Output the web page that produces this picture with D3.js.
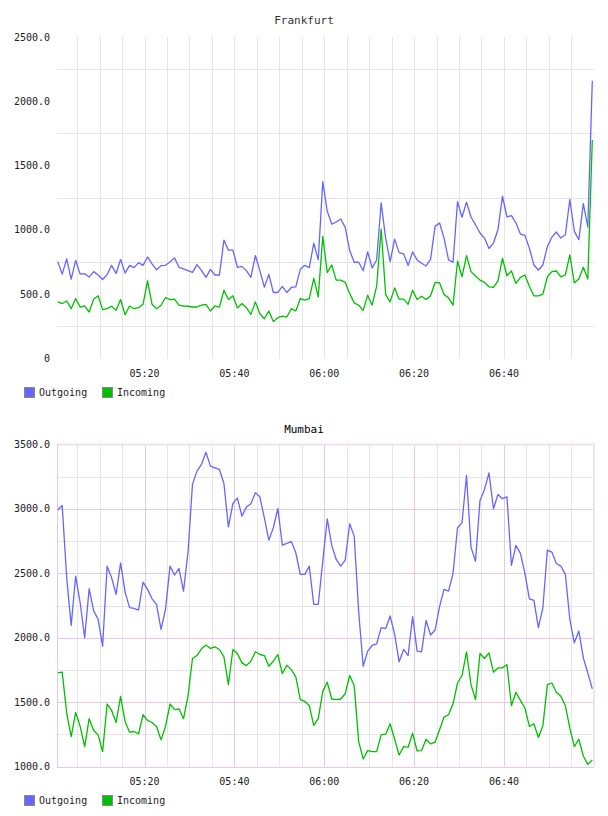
<!DOCTYPE html>
<html>
<head>
<meta charset="utf-8">
<script src="https://cdn.jsdelivr.net/npm/d3@7"></script>
<style>
  body { margin: 0; background: #fff; }
  svg { display: block; }
  text { font-family: "DejaVu Sans Mono", "Liberation Mono", monospace; }
</style>
</head>
<body>
<svg id="chart" width="608" height="816"></svg>
<script>

// one sample per minute, first sample at 05:00:40
const startTime = new Date(2020, 0, 1, 5, 0, 40);
const seriesNames = ["Outgoing", "Incoming"];
const seriesColors = ["#6666ff", "#00c000"];

const frankfurtOutgoing = [
    754,657,775,618,764,657,660,634,676,650,
    615,652,725,662,770,665,725,707,746,725,
    790,736,689,723,725,751,783,710,697,684,
    670,730,686,631,694,650,650,921,843,843,
    710,717,684,631,801,684,555,655,514,514,
    561,514,553,558,694,725,707,
    897,767,1375,1146,1046,1062,1085,1020,840,749,
    749,683,830,704,767,1210,937,754,929,824,
    814,723,830,767,741,720,772,1028,1054,937,
    767,749,1220,1099,1216,1101,1041,976,937,856,
    898,1002,1262,1101,1112,1054,968,958,858,728,
    689,728,871,944,984,937,963,1237,989,924,
    1205,1023,2160
];
const frankfurtIncoming = [
    441,428,448,388,467,401,409,362,462,488,
    381,388,407,375,459,341,409,388,396,422,
    605,422,388,415,475,459,462,415,409,407,
    401,401,415,422,370,409,401,532,459,488,
    394,428,396,344,441,349,310,370,289,318,
    331,323,388,370,467,454,467,
    623,480,950,668,728,610,610,592,506,433,
    415,375,493,415,563,1007,498,441,550,462,
    462,422,532,459,485,459,488,592,589,498,
    472,415,759,636,801,676,642,610,592,558,
    553,605,780,644,681,584,631,650,563,488,
    488,501,636,676,681,636,650,806,589,618,
    710,618,1700
];

const mumbaiOutgoing = [
    2990,3026,2465,2096,2478,2271,2000,2380,2208,2143,
    1935,2555,2465,2336,2581,2354,2233,2227,2215,2431,
    2375,2302,2258,2065,2220,2555,2486,2537,2362,2659,
    3189,3292,3344,3439,3331,3318,3305,3196,2860,3041,
    3083,2943,3013,3039,3124,3093,2930,2757,2853,3003,
    2718,2731,2747,2659,2491,2491,2555,
    2258,2258,2594,2922,2716,2607,2555,2602,2884,2788,
    2200,1779,1896,1940,1953,2078,2070,2169,2026,1813,
    1909,1862,2164,1896,1891,2135,2021,2060,2241,2375,
    2362,2499,2853,2891,3258,2703,2592,3065,3150,3279,
    3000,3111,3078,3093,2561,2716,2654,2499,2302,2289,
    2078,2234,2680,2664,2576,2555,2491,2143,1961,2052,
    1844,1727,1603
];
const mumbaiIncoming = [
    1727,1733,1416,1234,1421,1312,1156,1372,1281,1247,
    1117,1486,1436,1343,1546,1351,1268,1273,1255,1403,
    1359,1343,1312,1208,1312,1486,1442,1449,1372,1546,
    1839,1862,1914,1943,1917,1930,1909,1852,1636,1909,
    1878,1805,1784,1818,1891,1870,1862,1779,1818,1870,
    1722,1787,1753,1696,1520,1507,1473,
    1320,1372,1584,1655,1525,1520,1525,1566,1707,1629,
    1195,1060,1125,1117,1117,1247,1252,1333,1213,1091,
    1156,1151,1260,1122,1125,1213,1177,1190,1286,1385,
    1403,1488,1649,1707,1891,1636,1520,1878,1839,1883,
    1733,1766,1766,1792,1473,1577,1514,1455,1312,1333,
    1226,1317,1636,1649,1577,1546,1473,1299,1156,1213,
    1083,1018,1052
];

const frankfurtTicks = [0, 500, 1000, 1500, 2000, 2500];
const mumbaiTicks = [1000, 1500, 2000, 2500, 3000, 3500];


const svg = d3.select("#chart");

const drawChart = function(opts){
    const left = 57, right = 594,
          top = opts.top, bottom = opts.bottom;

    const g = svg.append("g");

    let times = opts.series[0].map(function(d, i){ return d3.timeMinute.offset(startTime, i) });

    const xScale = d3.scaleTime()
        .domain([times[0], times[times.length - 1]])
        .range([57.7, 592.3]);

    const yScale = d3.scaleLinear()
        .domain(opts.domain)
        .range([bottom, top]);

    const step = opts.ticks[1] - opts.ticks[0];
    const minorY = opts.ticks.slice(0, -1).map(function(d){ return d + step / 2 });
    const gridTimes = d3.timeMinute.every(5).range(times[0], times[times.length - 1]);

    // minor grid
    g.selectAll(".vgrid")
        .data(gridTimes.filter(function(d){ return opts.majorColor == null || d.getMinutes() % 20 != 0 }))
        .enter().append("line")
        .attr("x1", function(d){ return Math.round(xScale(d)) + 0.5 })
        .attr("x2", function(d){ return Math.round(xScale(d)) + 0.5 })
        .attr("y1", top).attr("y2", bottom)
        .attr("stroke", "#e6e6e6");

    g.selectAll(".hgrid")
        .data(minorY)
        .enter().append("line")
        .attr("x1", left).attr("x2", right)
        .attr("y1", function(d){ return Math.round(yScale(d)) + 0.5 })
        .attr("y2", function(d){ return Math.round(yScale(d)) + 0.5 })
        .attr("stroke", "#e6e6e6");

    // major grid (bottom chart only)
    if (opts.majorColor) {
        g.selectAll(".vmajor")
            .data(gridTimes.filter(function(d){ return d.getMinutes() % 20 == 0 }))
            .enter().append("line")
            .attr("x1", function(d){ return Math.round(xScale(d)) + 0.5 })
            .attr("x2", function(d){ return Math.round(xScale(d)) + 0.5 })
            .attr("y1", top).attr("y2", bottom)
            .attr("stroke", opts.majorColor);

        g.selectAll(".hmajor")
            .data(opts.ticks)
            .enter().append("line")
            .attr("x1", left).attr("x2", right)
            .attr("y1", function(d){ return Math.round(yScale(d)) + 0.5 })
            .attr("y2", function(d){ return Math.round(yScale(d)) + 0.5 })
            .attr("stroke", function(d, i){ return i == opts.ticks.length - 1 ? "#f0e2f0" : opts.majorColor })
            .attr("stroke-width", function(d, i){ return i == opts.ticks.length - 1 ? 2 : 1 });

        g.append("line")
            .attr("x1", left + 0.5).attr("x2", left + 0.5)
            .attr("y1", top).attr("y2", bottom)
            .attr("stroke", opts.majorColor);
        g.append("line")
            .attr("x1", right).attr("x2", right)
            .attr("y1", top - 1).attr("y2", bottom)
            .attr("stroke", "#f0e2f0")
            .attr("stroke-width", 2);
    }

    // y labels
    g.selectAll(".ylabel")
        .data(opts.ticks)
        .enter().append("text")
        .attr("x", 50)
        .attr("y", function(d){ return yScale(d) })
        .attr("dy", "0.35em")
        .attr("text-anchor", "end")
        .attr("font-size", 10)
        .attr("fill", "#222")
        .text(function(d){ return d == 0 ? "0" : d3.format(".1f")(d) });

    // x labels
    g.selectAll(".xlabel")
        .data(d3.timeMinute.every(20).range(times[0], times[times.length - 1]))
        .enter().append("text")
        .attr("x", function(d){ return xScale(d) })
        .attr("y", bottom + 18)
        .attr("text-anchor", "middle")
        .attr("font-size", 10)
        .attr("fill", "#222")
        .text(d3.timeFormat("%H:%M"));

    // title
    g.append("text")
        .attr("x", 304)
        .attr("y", opts.titleY)
        .attr("text-anchor", "middle")
        .attr("font-size", 11)
        .attr("fill", opts.titleColor)
        .text(opts.title);

    const dline = d3.line()
        .x(function(d, i){ return xScale(times[i]) })
        .y(function(d){ return yScale(d) });

    opts.series.forEach(function(s, k){
        g.append("path")
            .datum(s)
            .attr("fill", "none")
            .attr("stroke", seriesColors[k])
            .attr("stroke-width", 1.3)
            .attr("stroke-linejoin", "round")
            .attr("d", dline);
    });

    // legend
    const legendX = [24, 102];
    seriesNames.forEach(function(name, k){
        g.append("rect")
            .attr("x", legendX[k] + 0.5)
            .attr("y", opts.legendY - 5 + 0.5)
            .attr("width", 10)
            .attr("height", 10)
            .attr("fill", seriesColors[k])
            .attr("stroke", "#888");
        g.append("text")
            .attr("x", legendX[k] + 15)
            .attr("y", opts.legendY)
            .attr("dy", "0.35em")
            .attr("font-size", 10)
            .attr("fill", "#222")
            .text(name);
    });
};

drawChart({
    title: "Frankfurt", titleY: 24, titleColor: "#333",
    top: 37, bottom: 358.6,
    domain: [0, 2500], ticks: frankfurtTicks,
    series: [frankfurtOutgoing, frankfurtIncoming],
    majorColor: null,
    legendY: 392
});

drawChart({
    title: "Mumbai", titleY: 433, titleColor: "#000",
    top: 444.3, bottom: 766.7,
    domain: [1000, 3500], ticks: mumbaiTicks,
    series: [mumbaiOutgoing, mumbaiIncoming],
    majorColor: "#e6c8e6",
    legendY: 800
});

</script>
</body>
</html>
